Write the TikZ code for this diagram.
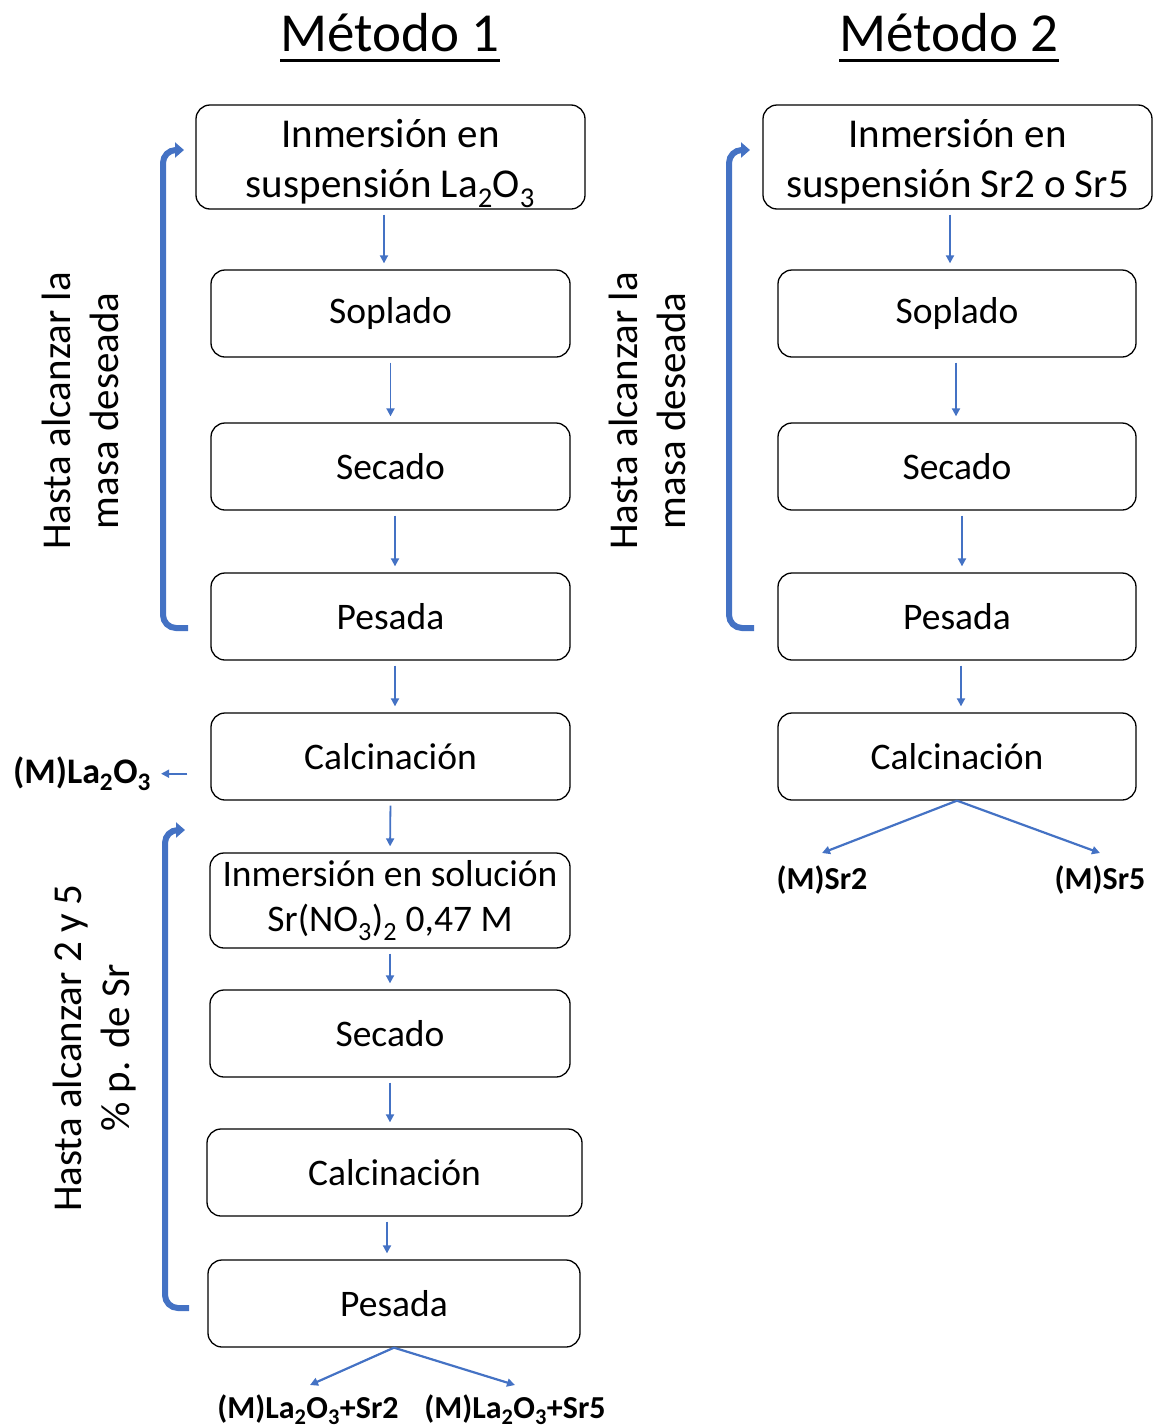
\documentclass[tikz,border=0pt]{standalone}
\usepackage{fontspec}
\setmainfont{Carlito}
\usetikzlibrary{arrows.meta,positioning}
\definecolor{flowblue}{HTML}{4472C4}
\newcommand\boxfont{\fontsize{37.5}{50}\selectfont}
\newcommand\bigboxfont{\fontsize{41}{50}\selectfont}
\newcommand\sidefont{\fontsize{41}{48}\selectfont}
\newcommand\ttlfont{\fontsize{55}{60}\selectfont}
\newcommand\outfont{\fontsize{32}{38}\selectfont\bfseries}
\newcommand\ttlul[1]{\setbox0\hbox{#1}\rlap{\rule[-11pt]{\wd0}{3pt}}\box0}
\newcommand\topstrut[1]{\rule{0pt}{#1}}
\tikzset{
  blk/.style={draw,rectangle,rounded corners=14pt,line width=1.3pt,align=center,font=\boxfont,minimum width=359pt,minimum height=87pt,inner sep=0pt},
  arr/.style={-{Triangle[length=8pt,width=8pt]},flowblue,line width=1.8pt,shorten <=5pt,shorten >=6pt},
  splitarr/.style={-{Triangle[length=8pt,width=8pt]},flowblue,line width=2.2pt},
  looparr/.style={-{Triangle[length=9pt,width=15pt]},flowblue,line width=6pt,rounded corners=13pt},
  sidelbl/.style={rotate=90,align=center,font=\sidefont,inner sep=0pt},
  outlbl/.style={font=\outfont,inner sep=0pt,anchor=base},
  ttl/.style={font=\ttlfont,inner sep=0pt,anchor=base}
}

\begin{document}
\begin{tikzpicture}[x=1pt,y=-1pt]
  \useasboundingbox (0,0) rectangle (1154,1427);
  % Titles
  \node[ttl] (ttl1) at (390,51) {\ttlul{Método 1}};
  \node[ttl] (ttl2) at (949,51) {\ttlul{Método 2}};

  % Método 1 column
  \node[blk,minimum width=389pt,minimum height=104pt,font=\bigboxfont] (inmA) at (390.5,157) {\topstrut{42pt}Inmersión en\\suspensión La\textsubscript{2}O\textsubscript{3}};
  \node[blk] (sopA) at (390.5,313.5) {Soplado};
  \node[blk] (secA) at (390.5,466.5) {Secado};
  \node[blk] (pesA) at (390.5,616.5) {Pesada};
  \node[blk] (calA) at (390.5,756.5) {Calcinación};
  \node[blk,minimum width=360pt,minimum height=95pt,font={\fontsize{37.5}{45}\selectfont}] (solA) at (390,900.5) {Inmersión en solución\\Sr(NO\textsubscript{3})\textsubscript{2} 0,47 M};
  \node[blk,minimum width=360pt] (secB) at (390,1033.5) {Secado};
  \node[blk,minimum width=375pt] (calB) at (394.5,1172.5) {Calcinación};
  \node[blk,minimum width=372pt] (pesB) at (394,1303.5) {Pesada};

  % Método 2 column
  \node[blk,minimum width=389pt,minimum height=104pt,font=\bigboxfont] (inmC) at (957.5,157) {\topstrut{38pt}Inmersión en\\suspensión Sr2 o Sr5};
  \node[blk,minimum width=358pt] (sopC) at (957,313.5) {Soplado};
  \node[blk,minimum width=358pt] (secC) at (957,466.5) {Secado};
  \node[blk,minimum width=358pt] (pesC) at (957,616.5) {Pesada};
  \node[blk,minimum width=358pt] (calC) at (957,756.5) {Calcinación};

  % Step arrows
  \foreach \a/\b/\dx/\ex in {inmA/sopA/-6.5/-6.5, sopA/secA/0/0, secA/pesA/4.5/4.5, pesA/calA/4.5/4.5, calA/solA/0/0, solA/secB/0/0, secB/calB/0/-4.5, calB/pesB/-7.5/-7, inmC/sopC/-7.5/-7, sopC/secC/-1/-1, secC/pesC/5/5, pesC/calC/4/4}
    \draw[arr] ([xshift=\dx pt]\a.south) -- ([xshift=\ex pt]\b.north);

  % Repeat loops
  \coordinate (loopA1) at (188,628);
  \coordinate (loopA2) at (184,150);
  \coordinate (loopB1) at (189,1308);
  \coordinate (loopB2) at (185,830);
  \coordinate (loopC1) at (754,628);
  \coordinate (loopC2) at (750,150);
  \draw[looparr] (loopA1) -- ++(-25,0) |- (loopA2);
  \draw[looparr] (loopB1) -- ++(-24,0) |- (loopB2);
  \draw[looparr] (loopC1) -- ++(-25,0) |- (loopC2);

  \node[sidelbl] (repA) at (80,411) {Hasta alcanzar la\\masa deseada};
  \node[sidelbl] (repB) at (95,1048) {Hasta alcanzar 2 y 5\\\% p. de Sr};
  \node[sidelbl] (repC) at (647,411) {Hasta alcanzar la\\masa deseada};

  % Products
  \node[outlbl,font={\fontsize{36}{40}\selectfont\bfseries}] (mla) at (82,783) {(M)La\textsubscript{2}O\textsubscript{3}};
  \coordinate (calAout) at ([xshift=-23pt]calA.west);
  \draw[arr,shorten <=0pt,shorten >=10pt] (calAout |- mla.east) -- (mla.east);

  \node[outlbl] (mlsr2) at (308,1418) {(M)La\textsubscript{2}O\textsubscript{3}+Sr2};
  \node[outlbl] (mlsr5) at (515,1418) {(M)La\textsubscript{2}O\textsubscript{3}+Sr5};
  \coordinate (endB2) at (310,1385);
  \coordinate (endB5) at (515,1385);
  \draw[splitarr] (pesB.south) -- (endB2);
  \draw[splitarr] (pesB.south) -- (endB5);

  \node[outlbl] (msr2) at (822,889) {(M)Sr2};
  \node[outlbl] (msr5) at (1100,889) {(M)Sr5};
  \coordinate (endC2) at (822,853);
  \coordinate (endC5) at (1100,853);
  \draw[splitarr] (calC.south) -- (endC2);
  \draw[splitarr] (calC.south) -- (endC5);
\end{tikzpicture}
\end{document}
